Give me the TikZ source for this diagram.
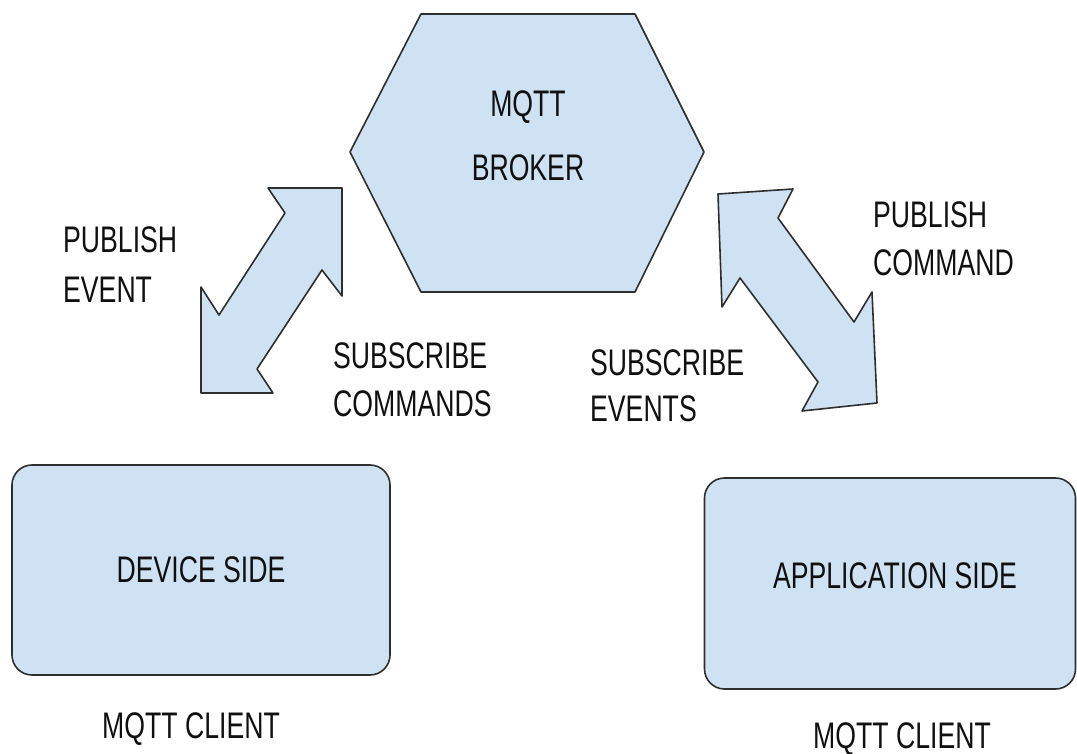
\documentclass[tikz,border=0pt]{standalone}
\usepackage{fontspec}
\setmainfont[FakeStretch=0.72]{Liberation Sans}
\definecolor{shapefill}{HTML}{CFE2F3}
\definecolor{shapeline}{HTML}{2E2E2E}
\definecolor{ink}{HTML}{101010}
\tikzset{
  shapestyle/.style={draw=shapeline, fill=shapefill, line width=1.6pt, line join=round},
  sidebox/.style={shapestyle, rounded corners=20pt, inner sep=0pt},
  lbl/.style={inner sep=0pt, text=ink, align=left, anchor=north west},
  txt/.style={font=\fontsize{37}{#1}\selectfont},
  txt/.default=48
}
\begin{document}
\begin{tikzpicture}[x=1pt,y=-1pt]
\useasboundingbox (0,0) rectangle (1077,754);

% broker hexagon
\coordinate (h1) at (421,14);
\coordinate (h2) at (635,14);
\coordinate (h3) at (704,152);
\coordinate (h4) at (635,292);
\coordinate (h5) at (421,292);
\coordinate (h6) at (350,152);
\draw[shapestyle] (h1) -- (h2) -- (h3) -- (h4) -- (h5) -- (h6) -- cycle;
\node[inner sep=0pt, text=ink, align=center, txt=64] (broker) at (528,136) {MQTT\\BROKER};

% client boxes
\node[sidebox, minimum width=378pt, minimum height=210pt, text=ink, txt] (device) at (201,570) {DEVICE SIDE};
\node[sidebox, minimum width=371pt, minimum height=211pt, text=ink, txt] (app) at (890,583.5) {};
\node[inner sep=0pt, text=ink, txt] (apptext) at (895,576) {APPLICATION SIDE};

% double block arrow between device side and broker
\draw[shapestyle] (342,188) -- (342,296) -- (322,270) -- (257,369) -- (273,393)
  -- (201,393) -- (201,287) -- (219,315) -- (285,213) -- (268,188) -- cycle;

% double block arrow between broker and application side
\draw[shapestyle] (718,194) -- (793,189) -- (778,218) -- (854,322) -- (872,292)
  -- (877,403) -- (802,411) -- (818,382) -- (740,278) -- (722,307) -- cycle;

% flow labels
\node[lbl, txt=50] (pubevent) at (63,226) {PUBLISH\\EVENT};
\node[lbl, txt=48] (subcmd) at (333,342) {SUBSCRIBE\\COMMANDS};
\node[lbl, txt=46] (subevt) at (590,349) {SUBSCRIBE\\EVENTS};
\node[lbl, txt=48] (pubcmd) at (873,201) {PUBLISH\\COMMAND};

% client captions
\node[inner sep=0pt, text=ink, txt, anchor=base west] (devclient) at (102,738) {MQTT CLIENT};
\node[inner sep=0pt, text=ink, txt, anchor=base west] (appclient) at (813,748) {MQTT CLIENT};
\end{tikzpicture}
\end{document}
